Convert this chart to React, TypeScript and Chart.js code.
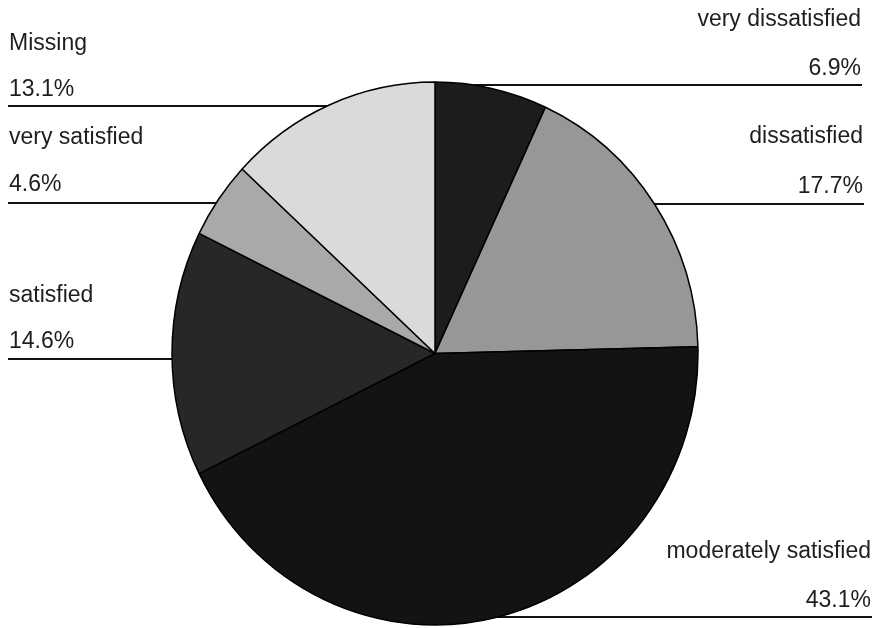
import React, { useEffect, useRef } from "react";
import { Chart, registerables } from "chart.js";

Chart.register(...registerables);

// ---- data ----
const categories = [
  "very dissatisfied",
  "dissatisfied",
  "moderately satisfied",
  "satisfied",
  "very satisfied",
  "Missing",
];
const percentages = [6.9, 17.7, 43.1, 14.6, 4.6, 13.1];

// ---- styles ----
const sliceColors = ["#1c1c1c", "#979797", "#131313", "#272727", "#a9a9a9", "#dadada"];
const FONT = '23px "Liberation Sans", Arial, sans-serif';
const TEXT_COLOR = "#1e1e1e";
const VERTICAL_STRETCH = 1.032; // the source pie is slightly taller than wide

// label placement (text + leader line), in canvas pixels, one per category
const labelLayout = [
  { side: "right", x: 861, nameY: 26, valueY: 75, lineY: 85 },
  { side: "right", x: 863, nameY: 143, valueY: 193, lineY: 204 },
  { side: "right", x: 871, nameY: 558, valueY: 607, lineY: 617 },
  { side: "left", x: 9, nameY: 302, valueY: 348, lineY: 359 },
  { side: "left", x: 9, nameY: 144, valueY: 191, lineY: 203 },
  { side: "left", x: 9, nameY: 50, valueY: 96, lineY: 106 },
];

const fmtPct = (v: number) => v.toFixed(1) + "%";

const pieLabels = {
  id: "pieLabels",
  beforeDatasetsDraw(chart: any) {
    const ctx = chart.ctx as CanvasRenderingContext2D;
    const meta = chart.getDatasetMeta(0);
    const arc = meta.data[0];
    const { x: cx, y: cy, outerRadius: r } = arc.getProps(["x", "y", "outerRadius"], true);
    const rv = r * VERTICAL_STRETCH;
    ctx.save();
    ctx.font = FONT;
    ctx.fillStyle = TEXT_COLOR;
    ctx.strokeStyle = "#111";
    ctx.lineWidth = 2;
    ctx.textBaseline = "alphabetic";
    labelLayout.forEach((l, i) => {
      const left = l.side === "left";
      ctx.textAlign = left ? "left" : "right";
      ctx.fillText(categories[i], l.x, l.nameY);
      ctx.fillText(fmtPct(percentages[i]), l.x, l.valueY);
      const dy = l.lineY - cy;
      const half = Math.abs(dy) < rv ? r * Math.sqrt(1 - (dy / rv) * (dy / rv)) : 0;
      ctx.beginPath();
      if (left) {
        ctx.moveTo(l.x - 1, l.lineY);
        ctx.lineTo(cx - half, l.lineY);
      } else {
        ctx.moveTo(cx + half, l.lineY);
        ctx.lineTo(l.x + 1, l.lineY);
      }
      ctx.stroke();
    });
    ctx.restore();
    // stretch the pie vertically around its centre
    ctx.save();
    ctx.translate(cx, cy);
    ctx.scale(1, VERTICAL_STRETCH);
    ctx.translate(-cx, -cy);
  },
  afterDatasetsDraw(chart: any) {
    chart.ctx.restore();
  },
};

export default function App() {
  const canvasRef = useRef<HTMLCanvasElement | null>(null);

  useEffect(() => {
    if (!canvasRef.current) return;
    const chart = new Chart(canvasRef.current, {
      type: "pie",
      data: {
        labels: categories,
        datasets: [
          {
            data: percentages,
            backgroundColor: sliceColors,
            borderColor: "#000",
            borderWidth: 1.5,
          },
        ],
      },
      options: {
        responsive: false,
        animation: false,
        events: [],
        radius: 263,
        layout: { padding: { left: 100, right: 105, top: 89, bottom: 10 } },
        plugins: {
          legend: { display: false },
          tooltip: { enabled: false },
          title: { display: false },
        },
      } as any,
      plugins: [pieLabels],
    });
    return () => chart.destroy();
  }, []);

  return (
    <div style={{ position: "absolute", left: 0, top: 0, width: 875, height: 628, background: "#fff" }}>
      <canvas ref={canvasRef} width={875} height={628} style={{ display: "block" }} />
    </div>
  );
}
